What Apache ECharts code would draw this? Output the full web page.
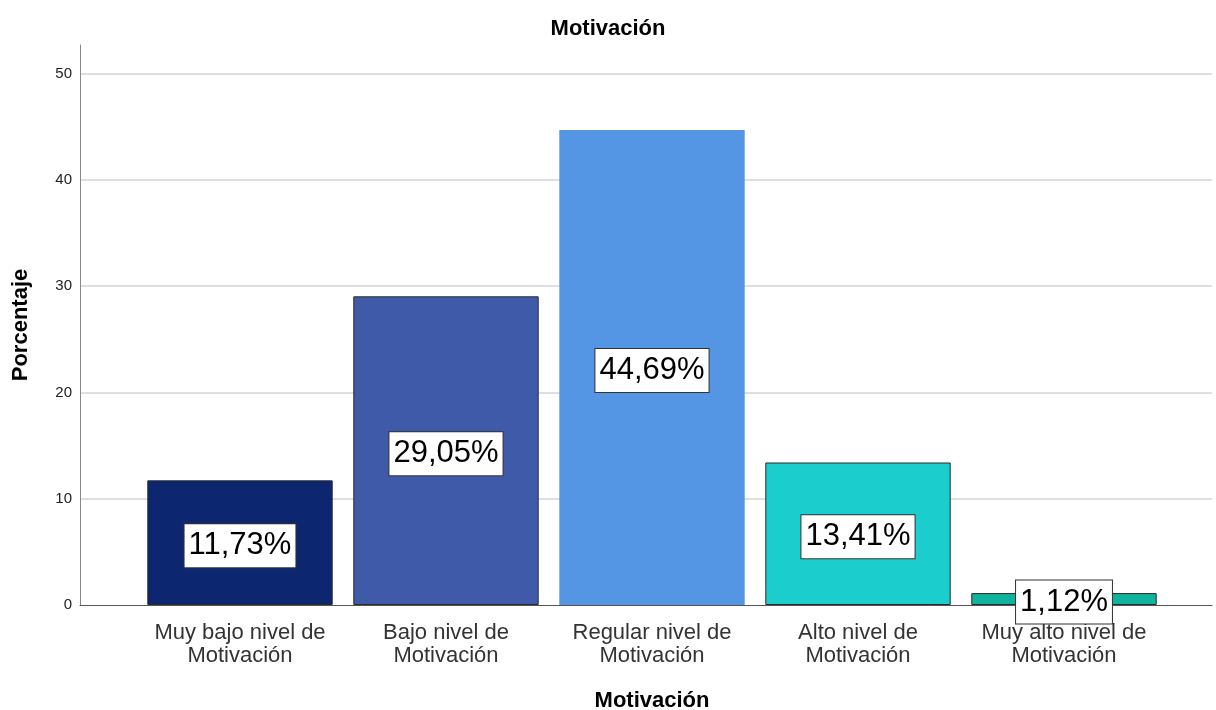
<!DOCTYPE html>
<html>
<head>
<meta charset="utf-8">
<script src="https://cdn.jsdelivr.net/npm/echarts@6/dist/echarts.min.js"></script>
<style>html,body{margin:0;padding:0;background:#fff;}#c{width:1216px;height:710px;}</style>
</head>
<body>
<div id="c"></div>
<script>
const categories = ['Muy bajo nivel de\nMotivación', 'Bajo nivel de\nMotivación', 'Regular nivel de\nMotivación', 'Alto nivel de\nMotivación', 'Muy alto nivel de\nMotivación'];
const values = [11.73, 29.05, 44.69, 13.41, 1.12];
const barColors = ['#0c2670', '#3e5aa8', '#5596e4', '#1ccdcd', '#10b39d'];
const barBorders = [1, 1, 0, 1, 1];
const yTicks = { min: 0, max: 52.7, interval: 10 };

const FONT = 'Liberation Sans, Arial, sans-serif';
const chart = echarts.init(document.getElementById('c'), null, { renderer: 'canvas' });

const seriesData = values.map((v, i) => ({
  value: v,
  itemStyle: { color: barColors[i], borderColor: '#2a2a2a', borderWidth: barBorders[i] }
}));

chart.setOption({
  animation: false,
  backgroundColor: '#fff',
  title: {
    text: 'Motivación', left: 'center', top: 13,
    textStyle: { fontFamily: FONT, fontSize: 22, fontWeight: 'bold', color: '#000' }
  },
  grid: [
    { left: 80, right: 4, top: 45, bottom: 105, containLabel: false, outerBoundsMode: 'none' },
    { left: 137, right: 49, top: 45, bottom: 105, containLabel: false, outerBoundsMode: 'none' }
  ],
  xAxis: [
    {
      gridIndex: 0, type: 'value', min: 0, max: 1,
      axisLine: { show: true, lineStyle: { color: '#555', width: 1 } },
      axisTick: { show: false }, axisLabel: { show: false }, splitLine: { show: false }
    },
    {
      gridIndex: 1, type: 'category', data: categories,
      axisLine: { show: false }, axisTick: { show: false },
      axisLabel: { fontFamily: FONT, fontSize: 22, color: '#333', lineHeight: 23, margin: 16, interval: 0 },
      name: 'Motivación', nameLocation: 'middle', nameGap: 85,
      nameTextStyle: { fontFamily: FONT, fontSize: 22, fontWeight: 'bold', color: '#000' }
    }
  ],
  yAxis: [
    {
      gridIndex: 0, type: 'value', min: yTicks.min, max: yTicks.max, interval: yTicks.interval,
      axisLine: { show: true, lineStyle: { color: '#888', width: 1 } },
      axisTick: { show: false },
      axisLabel: { fontFamily: FONT, fontSize: 15, color: '#222', margin: 8, showMaxLabel: false,
        formatter: v => (v % 10 === 0 ? String(v) : '') },
      splitLine: { show: true, showMinLine: false, showMaxLine: false, lineStyle: { color: '#d4d4d4', width: 1.5 } },
      name: 'Porcentaje', nameLocation: 'middle', nameGap: 48, nameRotate: 90,
      nameTextStyle: { fontFamily: FONT, fontSize: 22, fontWeight: 'bold', color: '#000' }
    },
    {
      gridIndex: 1, type: 'value', min: yTicks.min, max: yTicks.max, interval: yTicks.interval,
      show: false, splitLine: { show: false }
    }
  ],
  series: [{
    type: 'bar', xAxisIndex: 1, yAxisIndex: 1,
    data: seriesData,
    barCategoryGap: '10%',
    label: {
      show: true, position: 'inside', offset: [0, 3],
      formatter: p => p.value.toFixed(2).replace('.', ',') + '%',
      fontFamily: FONT, fontSize: 31, color: '#000', lineHeight: 34,
      backgroundColor: '#fff', borderColor: '#333', borderWidth: 1, padding: [5, 4, 4, 4]
    }
  }]
});
</script>
</body>
</html>
